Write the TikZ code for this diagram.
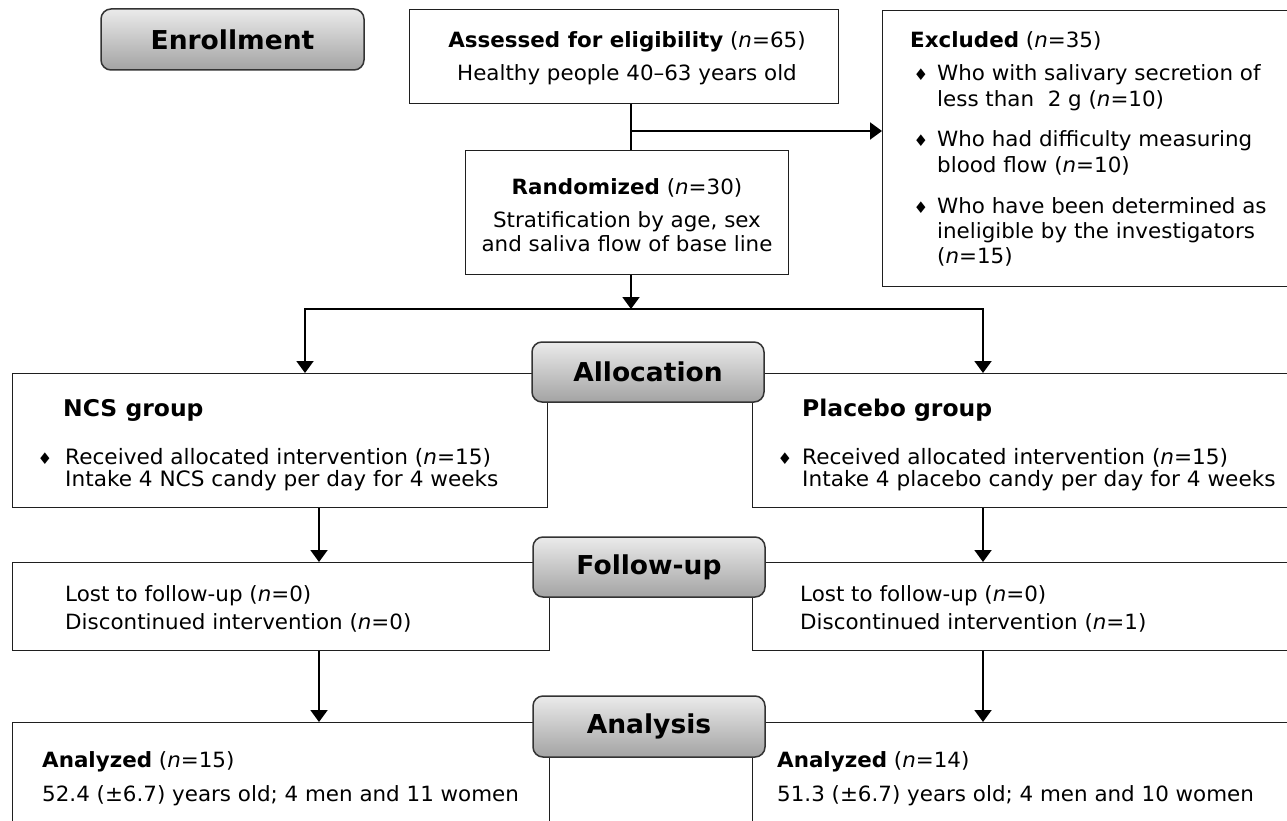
\documentclass[tikz,border=0pt]{standalone}
\usepackage{fontspec}
\setmainfont{DejaVu Sans}[FakeStretch=1.02]
\usetikzlibrary{arrows.meta}
\newcommand{\nn}{\textit{n}}
\newcommand{\bul}{{\fontsize{16}{16}\selectfont ♦}}
\begin{document}
\begin{tikzpicture}[x=1pt,y=-1pt,
  box/.style={draw=black!88, line width=1.3pt, fill=white, inner sep=0pt, anchor=north west},
  phase/.style={draw=black!80, line width=1.5pt, rounded corners=10pt, top color=black!8, bottom color=black!36, inner sep=0pt, font=\fontsize{26}{30}\selectfont\bfseries},
  txt/.style={anchor=base west, inner sep=0pt, font=\fontsize{21}{25}\selectfont},
  gbtxt/.style={anchor=base west, inner sep=0pt, font=\fontsize{21.2}{25}\selectfont},
  ctxt/.style={anchor=base, inner sep=0pt, font=\fontsize{21}{25}\selectfont},
  gtxt/.style={anchor=base west, inner sep=0pt, font=\fontsize{23}{27}\selectfont\bfseries},
  bultxt/.style={anchor=base, inner sep=0pt},
  conn/.style={line width=2pt, draw=black},
  arr/.style={conn, -{Triangle[width=17pt,length=12pt]}},
]
\useasboundingbox (0,0) rectangle (1287,821);

% ---- boxes ----
\node[box, minimum width=429pt, minimum height=94pt] (assess) at (409,9) {};
\node[box, minimum width=323pt, minimum height=124pt] (rand) at (465,150) {};
\node[box, minimum width=420pt, minimum height=276pt] (excl) at (882,10) {};
\node[box, minimum width=535pt, minimum height=134pt] (ncs) at (12,373) {};
\node[box, minimum width=550pt, minimum height=134pt] (plac) at (752,373) {};
\node[box, minimum width=537pt, minimum height=88pt] (fl) at (12,562) {};
\node[box, minimum width=550pt, minimum height=88pt] (fr) at (752,562) {};
\node[box, minimum width=537pt, minimum height=120pt] (al) at (12,722) {};
\node[box, minimum width=550pt, minimum height=120pt] (ar) at (752,722) {};

% ---- phase labels ----
\node[phase, minimum width=263pt, minimum height=61pt] (enroll) at (232.5,39.5) {Enrollment};
\node[phase, minimum width=232pt, minimum height=60pt] (alloc) at (648,372) {Allocation};
\node[phase, minimum width=232pt, minimum height=60pt] (follow) at (649,567) {Follow-up};
\node[phase, minimum width=232pt, minimum height=61pt] (analysis) at (649,726.5) {Analysis};

% ---- texts ----
\node[ctxt] (t1) at (627,48) {\textbf{Assessed for eligibility} (\nn=65)};
\node[ctxt] (t2) at (627,81) {Healthy people 40–63 years old};
\node[ctxt] (t3) at (627,194) {\textbf{Randomized} (\nn=30)};
\node[ctxt] (t4) at (627,227) {Stratification by age, sex};
\node[ctxt] (t5) at (627,251) {and saliva flow of base line};

\node[txt] (e0) at (910,48) {\textbf{Excluded} (\nn=35)};
\node[bultxt] (eb1) at (921,81) {\bul};
\node[txt] (e1) at (937,81) {Who with salivary secretion of};
\node[txt] (e2) at (937,107) {less than\ \ 2 g (\nn=10)};
\node[bultxt] (eb2) at (921,147) {\bul};
\node[txt] (e3) at (937,147) {Who had difficulty measuring};
\node[txt] (e4) at (937,173) {blood flow (\nn=10)};
\node[bultxt] (eb3) at (921,213) {\bul};
\node[txt] (e5) at (937,213) {Who have been determined as};
\node[txt] (e6) at (937,238) {ineligible by the investigators};
\node[txt] (e7) at (937,263) {(\nn=15)};

\node[gtxt] (g1) at (63,416) {NCS group};
\node[bultxt] (nb) at (45,464) {\bul};
\node[gbtxt] (n1) at (65,464) {Received allocated intervention (\nn=15)};
\node[gbtxt] (n2) at (65,486) {Intake 4 NCS candy per day for 4 weeks};

\node[gtxt] (g2) at (802,416) {Placebo group};
\node[bultxt] (pb) at (785,464) {\bul};
\node[gbtxt] (p1) at (802,464) {Received allocated intervention (\nn=15)};
\node[gbtxt] (p2) at (802,486) {Intake 4 placebo candy per day for 4 weeks};

\node[txt] (f1) at (65,601) {Lost to follow-up (\nn=0)};
\node[txt] (f2) at (65,629) {Discontinued intervention (\nn=0)};
\node[txt] (f3) at (800,601) {Lost to follow-up (\nn=0)};
\node[txt] (f4) at (800,629) {Discontinued intervention (\nn=1)};

\node[txt] (a1) at (42,767) {\textbf{Analyzed} (\nn=15)};
\node[txt] (a2) at (42,801) {52.4 (±6.7) years old; 4 men and 11 women};
\node[txt] (a3) at (777,767) {\textbf{Analyzed} (\nn=14)};
\node[txt] (a4) at (777,801) {51.3 (±6.7) years old; 4 men and 10 women};

% ---- connectors ----
\coordinate (cx) at (631,0);
\coordinate (br) at (631,131);
\coordinate (sc) at (631,309);
\coordinate (sl) at (305,309);
\coordinate (sr) at (983,309);
\coordinate (lx) at (319,0);
\coordinate (rx) at (983,0);

\draw[conn] (assess.south -| cx) -- (rand.north -| cx);
\draw[arr] (br) -- (br -| excl.west);
\draw[arr] (rand.south -| cx) -- (sc);
\draw[arr] (sc) -- (sl) -- (sl |- ncs.north);
\draw[arr] (sc) -- (sr) -- (sr |- plac.north);
\draw[arr] (ncs.south -| lx) -- (fl.north -| lx);
\draw[arr] (fl.south -| lx) -- (al.north -| lx);
\draw[arr] (plac.south -| rx) -- (fr.north -| rx);
\draw[arr] (fr.south -| rx) -- (ar.north -| rx);
\end{tikzpicture}
\end{document}
